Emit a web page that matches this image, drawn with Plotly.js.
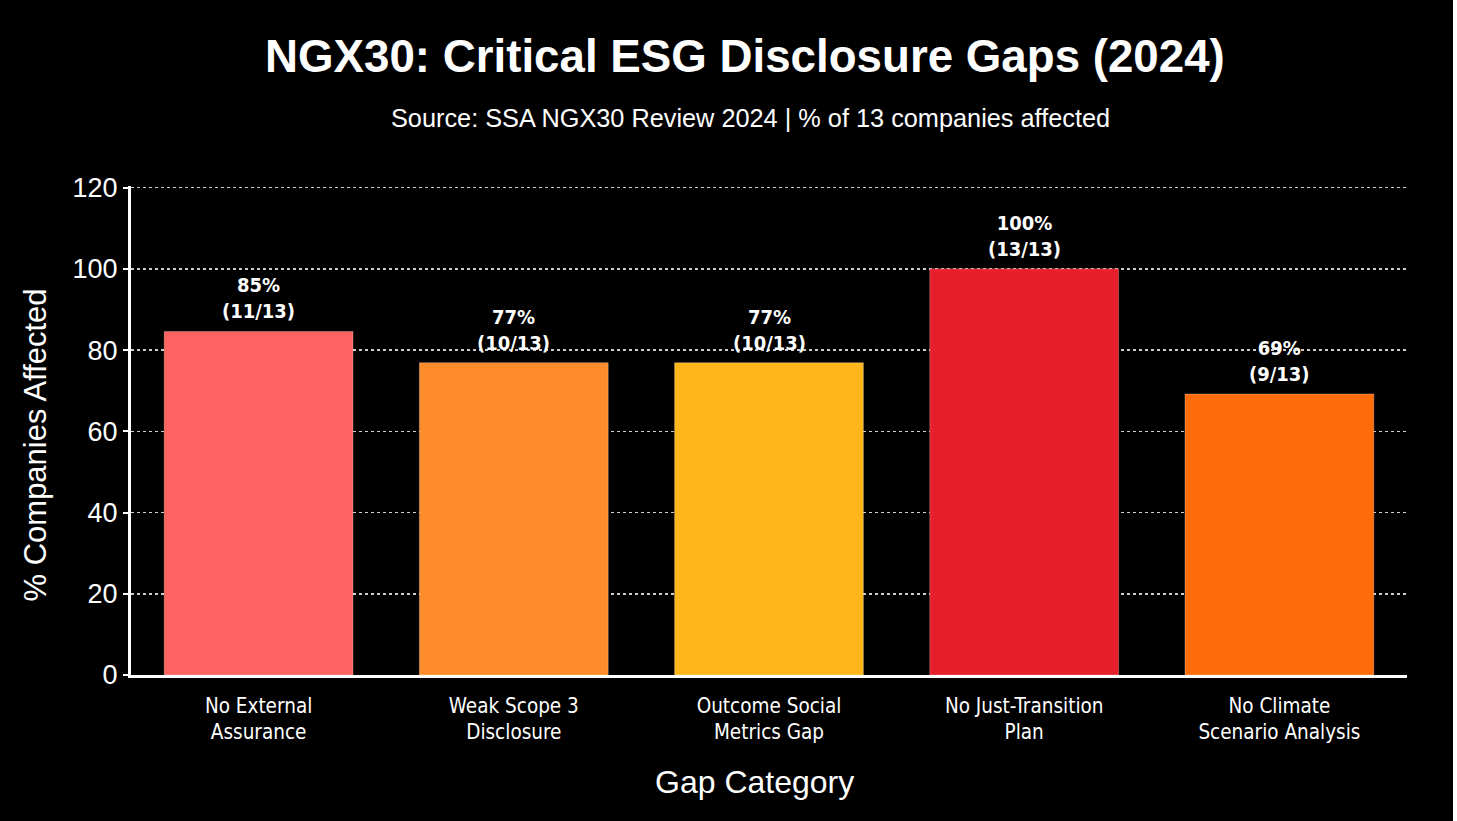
<!DOCTYPE html>
<html><head><meta charset="utf-8">
<script src="https://cdn.plot.ly/plotly-3.0.1.min.js"></script>
<style>html,body{margin:0;padding:0;background:#fff;} #chart{width:1453px;height:821px;}</style>
</head><body><div id="chart"></div>
<script>
const categories = ["No External<br>Assurance","Weak Scope 3<br>Disclosure","Outcome Social<br>Metrics Gap","No Just-Transition<br>Plan","No Climate<br>Scenario Analysis"];
const affected = [11, 10, 10, 13, 9];
const totalCompanies = 13;
const percentValues = [84.6, 76.9, 76.9, 100, 69.2];
const percentLabels = ["85%", "77%", "77%", "100%", "69%"];
const barColors = ["#FF6361", "#FF8C2B", "#FFB61A", "#E61F2A", "#FF6C0A"];
const yTicks = [0, 20, 40, 60, 80, 100, 120];

const narrow = "'DejaVu Sans Condensed', 'Liberation Sans Narrow', Arial, sans-serif";
const sans = "'Liberation Sans', Arial, sans-serif";

const barAnnotations = categories.map((c, i) => ({
  x: c, y: percentValues[i], xref: 'x', yref: 'y',
  text: `${percentLabels[i]}<br>(${affected[i]}/${totalCompanies})`,
  showarrow: false, yanchor: 'bottom', yshift: 6,
  font: {color: '#fff', size: 20, family: narrow, weight: 'bold'}
}));

Plotly.newPlot('chart', [{
  type: 'bar',
  x: categories,
  y: percentValues,
  marker: {color: barColors, line: {color: 'rgba(255,255,255,0.25)', width: 1}},
  hoverinfo: 'none'
}], {
  width: 1453, height: 821,
  paper_bgcolor: '#000', plot_bgcolor: '#000',
  margin: {l: 131, r: 46, t: 186, b: 146},
  bargap: 0.26,
  showlegend: false,
  annotations: [
    {text: '<b>NGX30: Critical ESG Disclosure Gaps (2024)</b>', xref: 'paper', yref: 'paper', x: 0.5, y: 1, xshift: -24, yshift: 130, xanchor: 'center', yanchor: 'middle', showarrow: false,
     font: {color: '#fff', size: 45.7, family: sans}},
    {text: 'Source: SSA NGX30 Review 2024 | % of 13 companies affected', xref: 'paper', yref: 'paper', x: 0.5, y: 1, xshift: -19, yshift: 68, xanchor: 'center', yanchor: 'middle', showarrow: false,
     font: {color: '#fff', size: 25.3, family: sans}},
    {text: '% Companies Affected', xref: 'paper', yref: 'paper', x: 0, y: 0.5, xshift: -96, yshift: -15, xanchor: 'center', yanchor: 'middle', textangle: -90, showarrow: false,
     font: {color: '#fff', size: 31, family: sans}},
    {text: 'Gap Category', xref: 'paper', yref: 'paper', x: 0.5, y: 0, xshift: -15, yshift: -107, xanchor: 'center', yanchor: 'middle', showarrow: false,
     font: {color: '#fff', size: 32, family: sans}}
  ].concat(barAnnotations),
  xaxis: {
    type: 'category',
    tickfont: {color: '#fff', size: 20.5, family: narrow},
    showline: true, linecolor: '#fff', linewidth: 3,
    ticks: 'outside', ticklen: 10, tickcolor: 'rgba(0,0,0,0)', showgrid: false
  },
  yaxis: {
    range: [0, 120.4],
    tickvals: yTicks,
    tickfont: {color: '#fff', size: 27, family: sans},
    showline: true, linecolor: '#fff', linewidth: 3,
    ticks: 'outside', tickcolor: '#fff', ticklen: 5, tickwidth: 2,
    showgrid: true, gridcolor: 'rgba(255,255,255,0.8)', griddash: '3px,3px', gridwidth: 1.5,
    zeroline: false
  }
}, {displayModeBar: false, staticPlot: true});
</script></body></html>
